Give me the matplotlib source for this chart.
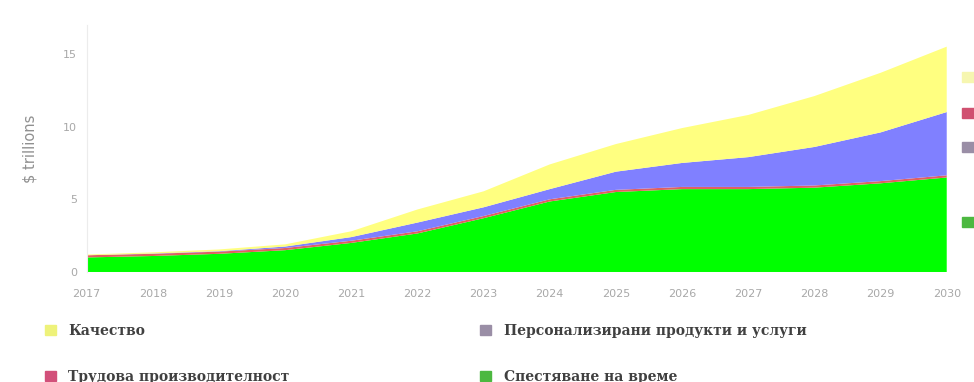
import matplotlib.pyplot as plt
import matplotlib.patches as mpatches
import numpy as np

# -------------------------------------------------
# -------------------- DATA -----------------------
# -------------------------------------------------
years = [2017, 2018, 2019, 2020, 2021, 2022, 2023, 2024, 2025, 2026, 2027, 2028, 2029, 2030]

save_time = [1.0, 1.1, 1.25, 1.5, 2.0, 2.65, 3.7, 4.85, 5.5, 5.7, 5.7, 5.8, 6.1, 6.5]
labour = [0.15, 0.15, 0.15, 0.15, 0.15, 0.15, 0.15, 0.15, 0.15, 0.15, 0.15, 0.15, 0.15, 0.15]
personal = [0.0, 0.02, 0.03, 0.1, 0.25, 0.6, 0.6, 0.7, 1.25, 1.65, 2.05, 2.65, 3.35, 4.35]
quality = [0.05, 0.08, 0.12, 0.15, 0.4, 0.9, 1.1, 1.7, 1.9, 2.4, 2.9, 3.5, 4.1, 4.5]

labels = ['Спестяване на време', 'Трудова производителност',
          'Персонализирани продукти и услуги', 'Качество']
area_colors = ['#00ff00', '#e06060', '#8080ff', '#ffff80']
legend_colors = {'Качество': '#eef27a',
                 'Трудова производителност': '#d2507a',
                 'Персонализирани продукти и услуги': '#9a8ea6',
                 'Спестяване на време': '#4cb840'}

# -------------------------------------------------
# ------------------- PLOTTING --------------------
# -------------------------------------------------
fig = plt.figure(figsize=(9.74, 3.82), dpi=100)
ax = fig.add_axes([0.089, 0.288, 0.883, 0.647])

ax.stackplot(years, save_time, labour, personal, quality,
             colors=area_colors, linewidth=0)

ax.set_xlim(2017, 2030)
ax.set_ylim(0, 17)
ax.set_xticks(years)
ax.set_yticks([0, 5, 10, 15])
ax.tick_params(length=0, labelsize=8, colors='#a8a8a8')
ax.tick_params(axis='x', pad=12)
ax.tick_params(axis='y', pad=7)
ax.set_ylabel('$ trillions', color='#909090', fontsize=10.5, labelpad=18)

for s in ['top', 'right', 'bottom']:
    ax.spines[s].set_visible(False)
ax.spines['left'].set_color('#ececec')

# legend, two columns under the chart
serif = {'family': 'DejaVu Serif', 'weight': 'bold', 'size': 10}
col1 = ['Качество', 'Трудова производителност']
col2 = ['Персонализирани продукти и услуги', 'Спестяване на време']
for names, x0 in [(col1, 0.033), (col2, 0.48)]:
    handles = [mpatches.Patch(color=legend_colors[n], label=n) for n in names]
    leg = fig.legend(handles=handles, loc='upper left', bbox_to_anchor=(x0, 0.185),
                     frameon=False, prop=serif, labelspacing=2.3,
                     handlelength=0.8, handleheight=0.8, handletextpad=0.9)
    for t in leg.get_texts():
        t.set_color('#404040')

# small end markers at the right edge
for yy, c in [(0.798, '#f6f6b0'), (0.704, '#d05070'), (0.615, '#9a8ea6'), (0.419, '#4cb840')]:
    fig.add_artist(mpatches.Rectangle((0.988, yy - 0.012), 0.012, 0.026,
                                      color=c, transform=fig.transFigure))

fig.savefig('out.png', dpi=100)
